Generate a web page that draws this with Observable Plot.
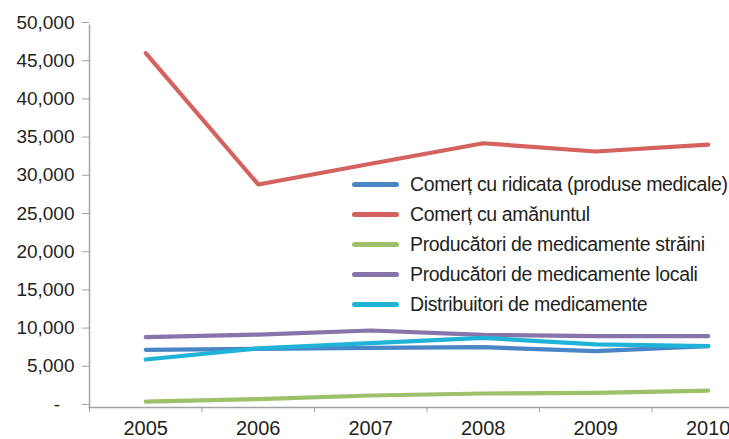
<!DOCTYPE html>
<html>
<head>
<meta charset="utf-8">
<script src="https://cdn.jsdelivr.net/npm/d3@7"></script>
<script src="https://cdn.jsdelivr.net/npm/@observablehq/plot@0.6"></script>
<style>
  html, body { margin: 0; padding: 0; background: #fff; overflow: hidden; }
  #wrap { position: relative; width: 729px; height: 439px; font-family: "Liberation Sans", Arial, sans-serif; color: #231f20; }
  #legend { position: absolute; left: 352px; top: 169px; font-size: 19.5px; letter-spacing: -0.35px; }
  #legend .row { display: flex; align-items: center; height: 30px; white-space: nowrap; }
  #legend .bar { width: 47px; height: 5px; border-radius: 3px; margin-right: 11px; }
</style>
</head>
<body>
<div id="wrap"><div id="chart"></div><div id="legend"></div></div>
<script>
const years = [2005, 2006, 2007, 2008, 2009, 2010];
const seriesNames = [
  "Comerț cu ridicata (produse medicale)",
  "Comerț cu amănuntul",
  "Producători de medicamente străini",
  "Producători de medicamente locali",
  "Distribuitori de medicamente"
];
const comertRidicata   = [7550, 7680, 7810, 7900, 7370, 8030];
const comertAmanuntul  = [46380, 29190, 31900, 34590, 33510, 34420];
const producatoriStraini = [780, 1090, 1570, 1830, 1920, 2220];
const producatoriLocali  = [9200, 9550, 10080, 9510, 9340, 9340];
const distribuitori      = [6280, 7750, 8420, 9120, 8250, 8030];
const seriesColors = ["#4a86c6", "#d4625f", "#9dc06a", "#8674aa", "#1fb3d8"];
const yTicks = [0, 5000, 10000, 15000, 20000, 25000, 30000, 35000, 40000, 45000, 50000];

const allSeries = [comertRidicata, comertAmanuntul, producatoriStraini, producatoriLocali, distribuitori];
const data = [];
allSeries.forEach((vals, i) => {
  vals.forEach((v, j) => data.push({year: years[j], value: v, series: seriesNames[i]}));
});
const bandEdges = years.map(y => y - 0.5).concat([years[years.length - 1] + 0.5]);

const fmt = d3.format(",");
const chart = Plot.plot({
  width: 729,
  height: 439,
  marginLeft: 89,
  marginTop: 25,
  marginBottom: 32,
  marginRight: 0,
  style: {fontFamily: '"Liberation Sans", Arial, sans-serif', fontSize: "19px", color: "#231f20", background: "#fff"},
  x: {domain: [years[0] - 0.5, years[years.length - 1] + 0.5], range: [89, 764], label: null},
  y: {domain: [0, 50000], label: null},
  color: {domain: seriesNames, range: seriesColors},
  marks: [
    Plot.frame({anchor: "left", stroke: "#a3a3a3", strokeWidth: 1.5, strokeOpacity: 1}),
    Plot.frame({anchor: "bottom", stroke: "#a3a3a3", strokeWidth: 1.5, strokeOpacity: 1}),
    Plot.axisY({ticks: yTicks, tickSize: 7, tickPadding: 8, dy: -3, stroke: "#a3a3a3", label: null,
      tickFormat: d => d === 0 ? "-\u2007\u2009" : fmt(d), fill: "#231f20"}),
    Plot.axisX({ticks: bandEdges, tickSize: 5, tickFormat: () => "", stroke: "#a3a3a3", label: null}),
    Plot.axisX({ticks: years, tickSize: 0, tickPadding: 13, tickFormat: d => String(d), fill: "#231f20", fontSize: 20, label: null}),
    Plot.line(data, {x: "year", y: "value", z: "series", stroke: "series", strokeWidth: 4.2, strokeLinecap: "round", strokeLinejoin: "round"})
  ]
});
document.getElementById("chart").appendChild(chart);

const legend = document.getElementById("legend");
seriesNames.forEach((name, i) => {
  const row = document.createElement("div");
  row.className = "row";
  const bar = document.createElement("span");
  bar.className = "bar";
  bar.style.background = seriesColors[i];
  const label = document.createElement("span");
  label.textContent = name;
  row.appendChild(bar);
  row.appendChild(label);
  legend.appendChild(row);
});
</script>
</body>
</html>
